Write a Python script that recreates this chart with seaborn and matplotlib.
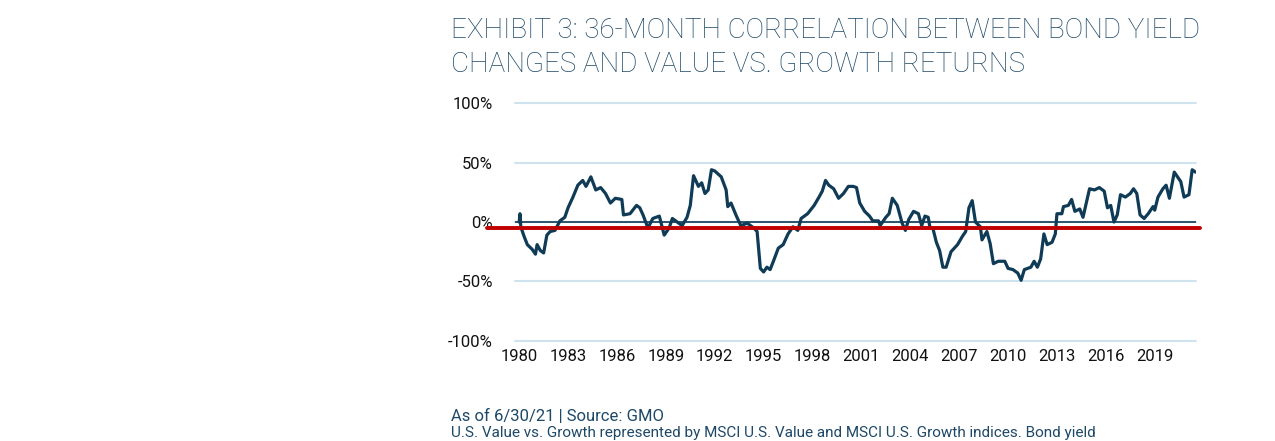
import matplotlib
matplotlib.use('Agg')
import matplotlib.pyplot as plt
import seaborn as sns
import pandas as pd

# ── Data ──────────────────────────────────────────────────────────────────────
years = [1980.0, 1980.05, 1980.1, 1980.3, 1980.5, 1980.8, 1981.0, 1981.1, 1981.3, 1981.5,
         1981.7, 1981.9, 1982.2, 1982.5, 1982.8, 1983.0, 1983.3, 1983.6, 1983.9, 1984.1,
         1984.4, 1984.7, 1985.0, 1985.3, 1985.6, 1985.9, 1986.3, 1986.4, 1986.8, 1987.2,
         1987.4, 1987.6, 1987.9, 1988.2, 1988.6, 1988.9, 1989.2, 1989.4, 1989.7, 1990.0,
         1990.3, 1990.5, 1990.7, 1991.0, 1991.2, 1991.4, 1991.6, 1991.8, 1992.0, 1992.4,
         1992.7, 1992.8, 1993.0, 1993.3, 1993.6, 1994.0, 1994.4, 1994.6, 1994.8, 1995.0,
         1995.2, 1995.4, 1995.6, 1995.9, 1996.2, 1996.5, 1996.8, 1997.1, 1997.3, 1997.7,
         1998.1, 1998.4, 1998.6, 1998.8, 1999.0, 1999.3, 1999.6, 1999.9, 2000.2, 2000.5,
         2000.7, 2000.9, 2001.2, 2001.5, 2001.7, 2002.05, 2002.15, 2002.5, 2002.7, 2002.9,
         2003.2, 2003.5, 2003.7, 2003.9, 2004.2, 2004.5, 2004.7, 2004.9, 2005.1, 2005.2,
         2005.4, 2005.6, 2005.8, 2006.0, 2006.2, 2006.5, 2006.9, 2007.2, 2007.4, 2007.6,
         2007.8, 2008.0, 2008.3, 2008.4, 2008.7, 2008.9, 2009.1, 2009.4, 2009.8, 2010.0,
         2010.3, 2010.6, 2010.8, 2011.0, 2011.4, 2011.6, 2011.8, 2012.0, 2012.2, 2012.4,
         2012.7, 2012.9, 2013.0, 2013.3, 2013.4, 2013.7, 2013.9, 2014.1, 2014.4, 2014.6,
         2014.8, 2015.0, 2015.3, 2015.6, 2015.9, 2016.1, 2016.3, 2016.5, 2016.7, 2016.9,
         2017.2, 2017.5, 2017.7, 2017.9, 2018.1, 2018.35, 2018.6, 2018.9, 2019.0, 2019.2,
         2019.5, 2019.7, 2019.9, 2020.2, 2020.6, 2020.8, 2021.1, 2021.3, 2021.5]
corr = [0, 7, -4, -12, -19, -23, -27, -19, -24, -26,
        -11, -8, -7, 1, 4, 12, 21, 31, 35, 30,
        38, 27, 29, 24, 16, 20, 19, 6, 7, 14,
        12, 6, -5, 3, 5, -11, -5, 3, 0, -3,
        4, 14, 39, 30, 33, 24, 27, 44, 43, 38,
        27, 13, 16, 6, -3, -1, -5, -8, -39, -42,
        -38, -40, -33, -22, -19, -10, -4, -7, 3, 7,
        14, 21, 26, 35, 31, 28, 20, 24, 30, 30,
        29, 16, 9, 5, 1, 1, -3, 4, 7, 20,
        14, -1, -7, 2, 9, 7, -3, 5, 4, -4,
        -6, -17, -24, -38, -38, -25, -19, -12, -8, 12,
        18, 0, -4, -15, -8, -18, -35, -33, -33, -39,
        -40, -43, -49, -40, -38, -33, -38, -31, -10, -19,
        -17, -10, 7, 7, 13, 14, 19, 9, 11, 4,
        16, 28, 27, 29, 26, 12, 14, 0, 6, 23,
        21, 24, 28, 24, 6, 3, 7, 13, 10, 21,
        28, 31, 20, 42, 34, 21, 23, 44, 42]
year_ticks = [1980, 1983, 1986, 1989, 1992, 1995, 1998, 2001, 2004, 2007, 2010, 2013, 2016, 2019]
pct_ticks = [-100, -50, 0, 50, 100]
avg_level = -5

NAVY = '#0f3b57'
TITLE_C = '#1d4867'
GRID_C = '#cfe3ef'
RED = '#c00000'

sns.set_style('white')
plt.rcParams['font.family'] = ['Roboto', 'DejaVu Sans']

fig = plt.figure(figsize=(12.75, 4.41), dpi=100)
ax = fig.add_axes([0.404, 0.227, 0.534, 0.539])

df = pd.DataFrame({'year': years, 'corr': corr})
for t in pct_ticks:
    ax.axhline(t, color=GRID_C, lw=1.5, zorder=0, clip_on=False)
ax.axhline(0, color=NAVY, lw=1.2, zorder=1)
sns.lineplot(data=df, x='year', y='corr', color=NAVY, lw=2.3, ax=ax, zorder=3)
ax.plot([1978.05, 2021.8], [avg_level, avg_level], color=RED, lw=2.8, zorder=4, clip_on=False)

ax.set_xlim(1979.75, 2021.53)
ax.set_ylim(-100, 100)
ax.set_xticks(year_ticks)
ax.set_xticklabels([str(y) for y in year_ticks])
ax.set_yticks(pct_ticks)
ax.set_yticklabels([f'{t}%' for t in pct_ticks])
ax.tick_params(axis='both', length=0, labelsize=12, colors='#111111')
ax.tick_params(axis='y', pad=16)
ax.tick_params(axis='x', pad=6)
ax.set_xlabel('')
ax.set_ylabel('')
sns.despine(ax=ax, left=True, bottom=True)

fig.text(0.354, 0.93, 'EXHIBIT 3: 36-MONTH CORRELATION BETWEEN BOND YIELD',
         fontsize=20, color=TITLE_C, fontweight='light', va='center', ha='left')
fig.text(0.354, 0.853, 'CHANGES AND VALUE VS. GROWTH RETURNS',
         fontsize=20, color=TITLE_C, fontweight='light', va='center', ha='left')
fig.text(0.354, 0.055, 'As of 6/30/21 | Source: GMO', fontsize=12, color=TITLE_C,
         va='center', ha='left')
fig.text(0.354, 0.002, 'U.S. Value vs. Growth represented by MSCI U.S. Value and MSCI U.S. Growth indices. Bond yield',
         fontsize=11, color=TITLE_C, va='bottom', ha='left')

fig.savefig('out.png', dpi=100)
